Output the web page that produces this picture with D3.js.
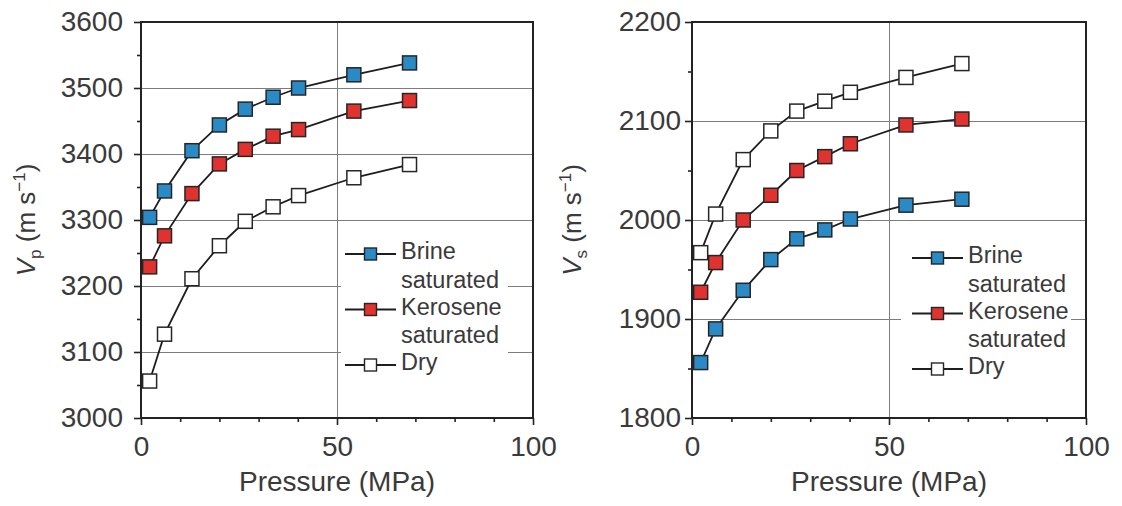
<!DOCTYPE html>
<html>
<head>
<meta charset="utf-8">
<script src="https://cdn.jsdelivr.net/npm/d3@7"></script>
<style>
  html, body { margin: 0; padding: 0; background: #fff; }
  svg { display: block; font-family: "Liberation Sans", Arial, sans-serif; }
</style>
</head>
<body>
<svg id="chart" width="1122" height="506"></svg>
<script>
// Confining pressure (MPa) at each measurement step
const pressure = [2.2, 6, 13, 20, 26.6, 33.7, 40.2, 54.3, 68.5];

// P-wave velocity (m/s)
const vpBrine    = [3304, 3344, 3405, 3444, 3468, 3486, 3500, 3520, 3538];
const vpKerosene = [3229, 3276, 3340, 3385, 3407, 3427, 3437, 3465, 3481];
const vpDry      = [3056, 3127, 3211, 3261, 3298, 3320, 3337, 3364, 3384];

// S-wave velocity (m/s)
const vsBrine    = [1856, 1890, 1929, 1960, 1981, 1990, 2001, 2015, 2021];
const vsKerosene = [1927, 1957, 2000, 2025, 2050, 2064, 2077, 2096, 2102];
const vsDry      = [1967, 2006, 2061, 2090, 2110, 2120, 2129, 2144, 2158];

const seriesNames = ["Brine saturated", "Kerosene saturated", "Dry"];
const legendLines = [["Brine", "saturated"], ["Kerosene", "saturated"], ["Dry"]];
const seriesFill = ["#2a8ac6", "#e0322f", "#ffffff"];

const xTicks = [0, 50, 100];
const xMinorTicks = [10, 20, 30, 40, 60, 70, 80, 90];
const vpTicks = [3000, 3100, 3200, 3300, 3400, 3500, 3600];
const vsTicks = [1800, 1900, 2000, 2100, 2200];

const svg = d3.select("#chart");
const textColor = "#3a3a3a";

const panels = [
  {
    left: 141, right: 533, top: 22, bottom: 418,
    yDomain: [3000, 3600], yTicks: vpTicks, sub: "p",
    series: [vpBrine, vpKerosene, vpDry],
    labelPad: 11, titleX: 35,
    legend: { x: 345, y: 254, bg: [341, 238, 167, 144] }
  },
  {
    left: 692, right: 1086, top: 22, bottom: 418,
    yDomain: [1800, 2200], yTicks: vsTicks, sub: "s",
    series: [vsBrine, vsKerosene, vsDry],
    labelPad: 4, titleX: 581,
    legend: { x: 912, y: 258, bg: [901, 241, 170, 144] }
  }
];

panels.forEach(p => {
  const x = d3.scaleLinear().domain([0, 100]).range([p.left, p.right]);
  const y = d3.scaleLinear().domain(p.yDomain).range([p.bottom, p.top]);
  const g = svg.append("g");

  // grid lines
  const grid = g.append("g").attr("stroke", "#7c7c7c").attr("stroke-width", 1);
  p.yTicks.slice(1, -1).forEach(v => {
    grid.append("line")
      .attr("x1", p.left).attr("x2", p.right)
      .attr("y1", Math.round(y(v)) + 0.5).attr("y2", Math.round(y(v)) + 0.5);
  });
  grid.append("line")
    .attr("x1", Math.round(x(50)) + 0.5).attr("x2", Math.round(x(50)) + 0.5)
    .attr("y1", p.top).attr("y2", p.bottom);

  // legend background masks the grid behind it
  g.append("rect")
    .attr("x", p.legend.bg[0]).attr("y", p.legend.bg[1])
    .attr("width", p.legend.bg[2]).attr("height", p.legend.bg[3])
    .attr("fill", "#fff");

  // axes
  const yMinor = p.yTicks.slice(0, -1).map(v => v + 50);
  g.append("g").attr("transform", `translate(${p.left},0)`)
    .call(d3.axisLeft(y).tickValues(yMinor).tickSize(4).tickFormat(""))
    .call(a => a.select(".domain").remove());
  g.append("g").attr("transform", `translate(${p.left},0)`)
    .call(d3.axisLeft(y).tickValues(p.yTicks).tickSize(7).tickPadding(p.labelPad).tickFormat(d3.format("d")))
    .call(a => a.select(".domain").remove());
  g.append("g").attr("transform", `translate(0,${p.bottom})`)
    .call(d3.axisBottom(x).tickValues(xMinorTicks).tickSize(4).tickFormat(""))
    .call(a => a.select(".domain").remove());
  g.append("g").attr("transform", `translate(0,${p.bottom})`)
    .call(d3.axisBottom(x).tickValues(xTicks).tickSize(7).tickPadding(11).tickFormat(d3.format("d")))
    .call(a => a.select(".domain").remove());

  g.selectAll(".tick line").attr("stroke", "#222").attr("stroke-width", 1.6);
  g.selectAll(".tick text")
    .attr("font-size", 28).attr("fill", textColor)
    .attr("font-family", "'Liberation Sans', Arial, sans-serif");

  // plot frame
  g.append("rect")
    .attr("x", p.left).attr("y", p.top)
    .attr("width", p.right - p.left).attr("height", p.bottom - p.top)
    .attr("fill", "none").attr("stroke", "#222").attr("stroke-width", 2);

  // series
  const line = d3.line().x((d, i) => x(pressure[i])).y(d => y(d));
  p.series.forEach((vals, si) => {
    g.append("path").datum(vals)
      .attr("d", line).attr("fill", "none")
      .attr("stroke", "#1e1e1e").attr("stroke-width", 1.8);
    const m = 14;
    g.append("g").selectAll("rect").data(vals).join("rect")
      .attr("x", (d, i) => x(pressure[i]) - m / 2)
      .attr("y", d => y(d) - m / 2)
      .attr("width", m).attr("height", m)
      .attr("fill", seriesFill[si])
      .attr("stroke", "#262626").attr("stroke-width", 1.5);
  });

  // legend
  const lg = g.append("g");
  legendLines.forEach((lines, si) => {
    const ly = p.legend.y + si * 55.5;
    lg.append("line")
      .attr("x1", p.legend.x).attr("x2", p.legend.x + 51)
      .attr("y1", ly).attr("y2", ly)
      .attr("stroke", "#1e1e1e").attr("stroke-width", 1.8);
    lg.append("rect")
      .attr("x", p.legend.x + 25.5 - 6).attr("y", ly - 6)
      .attr("width", 12).attr("height", 12)
      .attr("fill", seriesFill[si]).attr("stroke", "#262626").attr("stroke-width", 1.4);
    lines.forEach((t, li) => {
      lg.append("text")
        .attr("x", p.legend.x + 56).attr("y", ly + 5 + li * 28.5)
        .attr("font-size", 23.5).attr("fill", textColor)
        .text(t);
    });
  });

  // axis titles
  g.append("text")
    .attr("x", (p.left + p.right) / 2).attr("y", 491)
    .attr("text-anchor", "middle").attr("font-size", 28).attr("fill", textColor)
    .text("Pressure (MPa)");

  const yt = g.append("text")
    .attr("transform", `translate(${p.titleX},${(p.top + p.bottom) / 2}) rotate(-90)`)
    .attr("text-anchor", "middle").attr("font-size", 26).attr("fill", textColor);
  yt.append("tspan").attr("font-style", "italic").text("V");
  yt.append("tspan").attr("font-size", 17).attr("dy", 6).text(p.sub);
  yt.append("tspan").attr("dy", -6).text(" (m s");
  yt.append("tspan").attr("font-size", 17).attr("dy", -10).text("\u22121");
  yt.append("tspan").attr("dy", 10).text(")");
});
</script>
</body>
</html>
